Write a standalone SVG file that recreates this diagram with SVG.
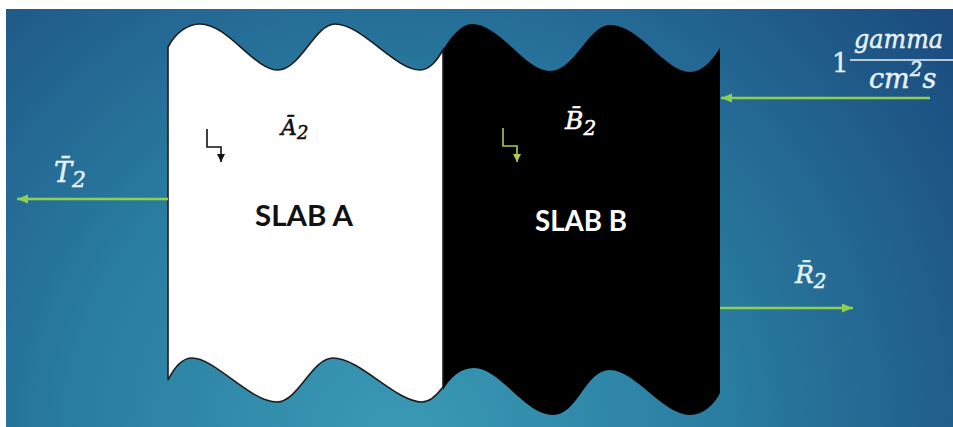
<svg xmlns="http://www.w3.org/2000/svg" width="953" height="427" viewBox="0 0 953 427">
  <defs>
    <radialGradient id="bgGrad" gradientUnits="userSpaceOnUse" cx="400" cy="440" r="700">
      <stop offset="0" stop-color="#3a9ab4"/>
      <stop offset="0.45" stop-color="#2a7ea2"/>
      <stop offset="1" stop-color="#1b4a7e"/>
    </radialGradient>
    <marker id="headGreen" markerUnits="userSpaceOnUse" markerWidth="12" markerHeight="10" refX="11" refY="4.5" orient="auto">
      <path d="M0,0 L11,4.5 L0,9 z" fill="#8fd14f"/>
    </marker>
    <marker id="headBlack" markerUnits="userSpaceOnUse" markerWidth="9" markerHeight="9" refX="8" refY="4" orient="auto">
      <path d="M0,0 L8,4 L0,8 z" fill="#111"/>
    </marker>
    <marker id="headLime" markerUnits="userSpaceOnUse" markerWidth="9" markerHeight="9" refX="8" refY="4" orient="auto">
      <path d="M0,0 L8,4 L0,8 z" fill="#aec94f"/>
    </marker>
  </defs>
  <style>
    .math { font-family: "DejaVu Serif", "Liberation Serif", serif; font-style: italic; stroke-width: 0.5px; }
    .up { font-family: "DejaVu Serif", "Liberation Serif", serif; font-style: normal; }
    .light { fill: #e6f2f6; stroke: #e6f2f6; }
    .dark { fill: #111111; stroke: #111111; }
    .white { fill: #ffffff; stroke: #ffffff; }
    .slab { font-family: "Lato", "Liberation Sans", sans-serif; font-weight: bold; font-size: 29px; }
    .flow { stroke: #8fd14f; stroke-width: 2.5; fill: none; marker-end: url(#headGreen); }
  </style>

  <rect x="0" y="0" width="953" height="427" fill="#ffffff"/>
  <rect id="background" x="6" y="9" width="947" height="418" fill="url(#bgGrad)"/>

  <g id="slab-b">
    <path d="M443,50 C452,35 462,24 472,24 C500,24 525,71 550,71 C575,71 588,25 610,25 C640,25 665,72 690,72 C703,72 712,60 720,48 L720,393 C714,405 703,415 690,415 C663,415 635,370 610,370 C585,370 578,415 553,415 C525,415 500,368 474,368 C460,368 450,378 443,390 Z" fill="#000000"/>
    <text class="slab" x="581" y="231" text-anchor="middle" fill="#ffffff" textLength="92" lengthAdjust="spacingAndGlyphs">SLAB B</text>
    <text class="math white" x="565" y="129" font-size="25">B̄<tspan font-size="20" dy="6">2</tspan></text>
  </g>

  <g id="slab-a">
    <path d="M168,47 C176,32 188,24 200,24 C228,24 254,70 278,70 C300,70 315,24 335,24 C362,24 395,70 420,70 C430,70 437,60 443,50 L443,387 C437,395 430,402 422,402 C396,402 360,358 333,358 C312,358 298,402 277,402 C250,402 215,358 192,358 C182,358 174,368 168,380 Z" fill="#ffffff" stroke="#1c1c1c" stroke-width="1.6"/>
    <text class="slab" x="304" y="226" text-anchor="middle" fill="#111111" textLength="98" lengthAdjust="spacingAndGlyphs">SLAB A</text>
    <text class="math dark" x="281" y="135" font-size="22">Ā<tspan font-size="18" dy="4">2</tspan></text>
  </g>

  <g id="label-t2">
    <text class="math light" x="54" y="182" font-size="27">T̄<tspan font-size="22" dy="5">2</tspan></text>
  </g>

  <g id="label-r2">
    <text class="math light" x="795" y="283" font-size="25">R̄<tspan font-size="20" dy="5">2</tspan></text>
  </g>

  <g id="label-flux">
    <text class="up light" x="832" y="72" font-size="26" stroke-width="0.4">1</text>
    <text class="math light" x="854" y="48" font-size="26" textLength="89" lengthAdjust="spacingAndGlyphs">gamma</text>
    <line x1="850" y1="60" x2="953" y2="60" stroke="#e6f2f6" stroke-width="1.6"/>
    <text class="math light" x="869" y="88" font-size="27">cm<tspan font-size="20" dy="-12">2</tspan><tspan font-size="27" dy="12">s</tspan></text>
  </g>

  <g id="connectors">
    <line class="flow" x1="930" y1="98" x2="721" y2="98"/>
    <line class="flow" x1="168" y1="199" x2="17" y2="199"/>
    <line class="flow" x1="720" y1="308" x2="853" y2="308"/>
    <path d="M207,129 V147 H221 V162" fill="none" stroke="#111" stroke-width="1.6" marker-end="url(#headBlack)"/>
    <path d="M503,128 V146 H517 V162" fill="none" stroke="#aec94f" stroke-width="1.6" marker-end="url(#headLime)"/>
  </g>
</svg>
